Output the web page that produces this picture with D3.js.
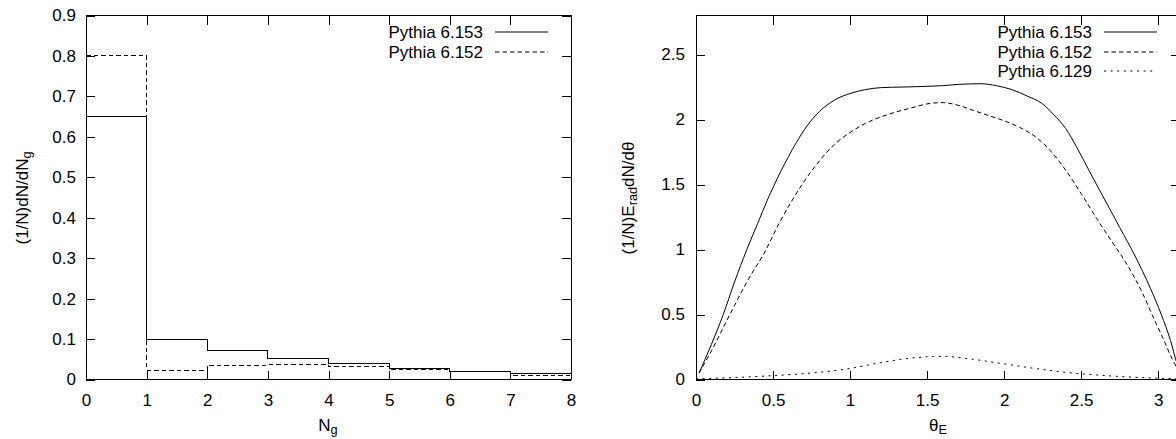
<!DOCTYPE html>
<html>
<head>
<meta charset="utf-8">
<script src="https://cdn.jsdelivr.net/npm/d3@7"></script>
<style>
  html, body { margin: 0; padding: 0; background: #fff; }
  svg { display: block; font-family: "Liberation Sans", Arial, sans-serif; }
</style>
</head>
<body>
<svg id="chart" width="1176" height="439"></svg>
<script>
// ---------- data ----------
// Left panel: gluon multiplicity histogram
const ngBinStarts = [0, 1, 2, 3, 4, 5, 6, 7];
const ngBinEnd = 8;
const ngP153 = [0.65, 0.100, 0.071, 0.051, 0.040, 0.027, 0.021, 0.015];
const ngP152 = [0.80, 0.023, 0.035, 0.037, 0.032, 0.025, 0.019, 0.011];
const ngXTicks = [0, 1, 2, 3, 4, 5, 6, 7, 8];
const ngYTicks = [0, 0.1, 0.2, 0.3, 0.4, 0.5, 0.6, 0.7, 0.8, 0.9];
const ngLegend = ["Pythia 6.153", "Pythia 6.152"];

// Right panel: energy-weighted angular distribution
const thP153x = [0.02, 0.10, 0.177, 0.25, 0.33, 0.40, 0.463, 0.55, 0.65, 0.72, 0.80, 0.90, 1.00, 1.10, 1.20, 1.35, 1.50, 1.60, 1.70, 1.85, 1.95, 2.05, 2.15, 2.25, 2.32, 2.40, 2.47, 2.55, 2.65, 2.75, 2.85, 2.95, 3.02, 3.08, 3.12, 3.14];
const thP153y = [0.05, 0.27, 0.50, 0.75, 1.00, 1.20, 1.38, 1.60, 1.82, 1.95, 2.06, 2.15, 2.20, 2.23, 2.245, 2.25, 2.255, 2.26, 2.27, 2.275, 2.26, 2.23, 2.18, 2.12, 2.04, 1.93, 1.79, 1.61, 1.39, 1.17, 0.95, 0.70, 0.50, 0.30, 0.13, 0.06];
const thP152x = [0.02, 0.10, 0.22, 0.33, 0.455, 0.53, 0.61, 0.70, 0.80, 0.90, 1.00, 1.10, 1.25, 1.40, 1.50, 1.60, 1.70, 1.80, 1.90, 2.00, 2.10, 2.20, 2.30, 2.40, 2.50, 2.60, 2.70, 2.80, 2.90, 2.96, 3.03, 3.09, 3.14];
const thP152y = [0.05, 0.22, 0.50, 0.75, 1.00, 1.18, 1.35, 1.52, 1.68, 1.81, 1.90, 1.97, 2.04, 2.09, 2.12, 2.13, 2.11, 2.07, 2.03, 1.99, 1.94, 1.87, 1.76, 1.61, 1.43, 1.24, 1.06, 0.88, 0.66, 0.50, 0.32, 0.16, 0.05];
const thP129x = [0.00, 0.25, 0.50, 0.75, 1.00, 1.20, 1.40, 1.60, 1.80, 2.00, 2.20, 2.40, 2.60, 2.80, 3.00, 3.14];
const thP129y = [0.005, 0.015, 0.03, 0.05, 0.085, 0.13, 0.165, 0.178, 0.155, 0.12, 0.085, 0.055, 0.035, 0.02, 0.01, 0.005];
const thXTicks = [0, 0.5, 1, 1.5, 2, 2.5, 3];
const thYTicks = [0, 0.5, 1, 1.5, 2, 2.5];
const thLegend = ["Pythia 6.153", "Pythia 6.152", "Pythia 6.129"];

// ---------- drawing ----------
const svg = d3.select("#chart");
const FONT = 17;
const TICK = 9;
const dashes = [null, "4.5,3", "2,4.6"];
const fmt = d3.format("~f");

function frame(g, x, y) {
  const [x0, x1] = x.range(), [y0, y1] = y.range();
  g.append("rect")
    .attr("x", x0).attr("y", y1).attr("width", x1 - x0).attr("height", y0 - y1)
    .attr("fill", "none").attr("stroke", "#000").attr("stroke-width", 1)
    .attr("shape-rendering", "crispEdges");
}

function axes(g, x, y, xt, yt, ypad) {
  const styleAxis = sel => {
    sel.select(".domain").remove();
    sel.selectAll(".tick line").attr("stroke", "#000").attr("shape-rendering", "crispEdges");
    sel.selectAll(".tick text").attr("fill", "#000").style("font-size", FONT + "px")
      .style("font-family", '"Liberation Sans", Arial, sans-serif');
  };
  const [x0, x1] = x.range(), [y0, y1] = y.range();
  g.append("g").attr("transform", `translate(0,${y0})`)
    .call(d3.axisBottom(x).tickValues(xt).tickSize(-TICK).tickPadding(14).tickFormat(fmt)).call(styleAxis);
  g.append("g").attr("transform", `translate(0,${y1})`)
    .call(d3.axisTop(x).tickValues(xt).tickSize(-TICK).tickFormat("")).call(styleAxis);
  g.append("g").attr("transform", `translate(${x0},0)`)
    .call(d3.axisLeft(y).tickValues(yt).tickSize(-TICK).tickPadding(ypad).tickFormat(fmt)).call(styleAxis);
  g.append("g").attr("transform", `translate(${x1},0)`)
    .call(d3.axisRight(y).tickValues(yt).tickSize(-TICK).tickFormat("")).call(styleAxis);
}

function legend(g, names, textRight, lineX0, lineX1, rowY) {
  names.forEach((n, i) => {
    const yy = rowY[i];
    g.append("text").attr("x", textRight).attr("y", yy).attr("dy", "0.36em")
      .attr("text-anchor", "end").style("font-size", FONT + "px").text(n);
    g.append("line").attr("x1", lineX0).attr("x2", i === 2 ? lineX1 - 4 : lineX1)
      .attr("y1", yy).attr("y2", yy)
      .attr("stroke", "#000").attr("stroke-width", 1)
      .attr("stroke-dasharray", dashes[i]);
  });
}

function subLabel(g, x, y, parts, rotate) {
  const t = g.append("text")
    .attr("transform", `translate(${x},${y})` + (rotate ? " rotate(-90)" : ""))
    .attr("text-anchor", "middle").style("font-size", FONT + "px");
  parts.forEach(p => {
    const s = t.append("tspan").text(p.t);
    if (p.sub) s.attr("baseline-shift", "-25%").style("font-size", (FONT * 0.75) + "px");
  });
}

// ----- left panel -----
const xL = d3.scaleLinear().domain([0, ngBinEnd]).range([86, 571]);
const yL = d3.scaleLinear().domain([0, 0.9]).range([379.5, 15.5]);
const gL = svg.append("g");

function stepPts(vals) {
  const pts = ngBinStarts.map((b, i) => [b, vals[i]]);
  pts.push([ngBinEnd, vals[vals.length - 1]]);
  return pts;
}
const stepLine = d3.line().x(d => xL(d[0])).y(d => yL(d[1])).curve(d3.curveStepAfter);
[ngP153, ngP152].forEach((vals, i) => {
  gL.append("path").attr("d", stepLine(stepPts(vals)))
    .attr("fill", "none").attr("stroke", "#000").attr("stroke-width", 1)
    .attr("stroke-dasharray", dashes[i]).attr("shape-rendering", "crispEdges");
});
frame(gL, xL, yL);
axes(gL, xL, yL, ngXTicks, ngYTicks, 10);
legend(gL, ngLegend, 483, 495, 548, [32, 52]);
subLabel(gL, 328, 431, [{t: "N"}, {t: "g", sub: true}], false);
subLabel(gL, 28, 198, [{t: "(1/N)dN/dN"}, {t: "g", sub: true}], true);

// ----- right panel -----
const xR = d3.scaleLinear().domain([0, Math.PI]).range([696, 1180]);
const yR = d3.scaleLinear().domain([0, 2.8]).range([379.5, 15.5]);
const gR = svg.append("g");
const curve = d3.line().x(d => xR(d[0])).y(d => yR(d[1])).curve(d3.curveMonotoneX);
[[thP153x, thP153y], [thP152x, thP152y], [thP129x, thP129y]].forEach(([xs, ys], i) => {
  gR.append("path").attr("d", curve(xs.map((v, k) => [v, ys[k]])))
    .attr("fill", "none").attr("stroke", "#000").attr("stroke-width", 1)
    .attr("stroke-dasharray", dashes[i]);
});
frame(gR, xR, yR);
axes(gR, xR, yR, thXTicks, thYTicks, 11);
legend(gR, thLegend, 1092, 1104, 1157, [32, 52, 71]);
subLabel(gR, 938, 431, [{t: "θ"}, {t: "E", sub: true}], false);
subLabel(gR, 634, 198, [{t: "(1/N)E"}, {t: "rad", sub: true}, {t: "dN/dθ"}], true);
</script>
</body>
</html>
